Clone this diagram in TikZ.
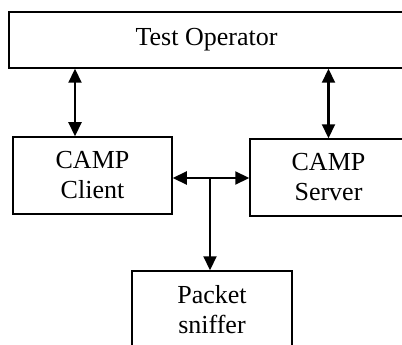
\documentclass[tikz,border=0pt]{standalone}
\usepackage{fontspec}
\setmainfont{Liberation Serif}
\usetikzlibrary{arrows.meta}
\begin{document}
\begin{tikzpicture}[x=1pt,y=-1pt,
  box/.style={draw,line width=1.5pt,align=center,inner sep=0pt,
    font=\fontsize{26}{30}\selectfont},
  link/.style={line width=2.2pt,{Triangle[length=14pt,width=13pt]}-{Triangle[length=14pt,width=13pt]}},
  feed/.style={line width=2.2pt,-{Triangle[length=14pt,width=13pt]}}]
  \useasboundingbox (0,0) rectangle (402,345);
  \clip (0,0) rectangle (402,345);
  \node[box,minimum width=395pt,minimum height=56pt] (top) at (206.5,40) {Test Operator};
  \node[box,minimum width=159pt,minimum height=77pt] (client) at (92.5,175.5) {CAMP\\Client};
  \node[box,minimum width=157pt,minimum height=77pt] (server) at (328.5,177.5) {CAMP\\Server};
  \node[box,minimum width=160pt,minimum height=77pt] (sniffer) at (212,309.5) {Packet\\sniffer};
  \coordinate (l) at (75,100);
  \coordinate (j) at (210,178);
  \draw[link] (l |- top.south) -- (l |- client.north);
  \draw[link] (top.south -| server.north) -- (server.north);
  \draw[link] (client.east |- j) -- (server.west |- j);
  \draw[feed] (j) -- (sniffer.north -| j);
\end{tikzpicture}
\end{document}
